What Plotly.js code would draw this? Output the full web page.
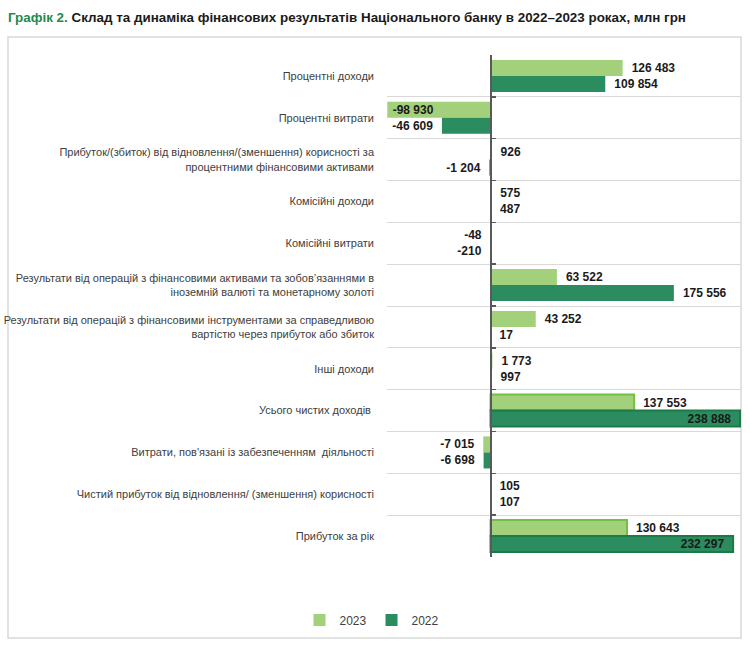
<!DOCTYPE html>
<html>
<head>
<meta charset="utf-8">
<script src="https://cdn.plot.ly/plotly-3.0.1.min.js"></script>
<style>
  html, body { margin: 0; padding: 0; background: #ffffff; }
  #chart { width: 750px; height: 645px; }
</style>
</head>
<body>
<div id="chart"></div>
<script>
// ---------- data ----------
const categories = [
  "Процентні доходи",
  "Процентні витрати",
  "Прибуток/(збиток) від відновлення/(зменшення) корисності за<br>процентними фінансовими активами",
  "Комісійні доходи",
  "Комісійні витрати",
  "Результати від операцій з фінансовими активами та зобов’язаннями в<br>іноземній валюті та монетарному золоті",
  "Результати від операцій з фінансовими інструментами за справедливою<br>вартістю через прибуток або збиток",
  "Інші доходи",
  "Усього чистих доходів ",
  "Витрати, пов'язані із забезпеченням  діяльності",
  "Чистий прибуток від відновлення/ (зменшення) корисності",
  "Прибуток за рік"
];
const values2023 = [126483, -98930, 926, 575, -48, 63522, 43252, 1773, 137553, -7015, 105, 130643];
const values2022 = [109854, -46609, -1204, 487, -210, 175556, 17, 997, 238888, -6698, 107, 232297];
const seriesNames = ["2023", "2022"];

// ---------- styling ----------
const colLight = "#a3d07b", colDark = "#2b8c60";
const borderLight = "#72bf44", borderDark = "#1d7a47";
const pos2023 = ["outside","inside","outside","outside","outside","outside","outside","outside","outside","outside","outside","outside"];
const pos2022 = ["outside","outside","outside","outside","outside","outside","outside","outside","inside","outside","outside","inside"];
const outlined = [false,false,false,false,false,false,false,false,true,false,false,true];

function fmt(v) {
  const s = String(Math.abs(v)).replace(/\B(?=(\d{3})+(?!\d))/g, " ");
  return (v < 0 ? "-" : "") + s;
}
function labelText(vals, pos) {
  return vals.map((v, i) => {
    const t = fmt(v);
    if (pos[i] === "inside") return v < 0 ? "\u2009" + t : t + "\u2002";
    return v < 0 ? t + "\u2002" : "\u2002" + t;
  });
}

const valueFont = { family: "Liberation Sans, Arial, sans-serif", size: 12, color: "#1a1a1a", weight: "bold" };

const traces = [
  {
    type: "bar", orientation: "h", name: seriesNames[0],
    y: categories, x: values2023,
    text: labelText(values2023, pos2023), textposition: pos2023,
    insidetextanchor: "end", constraintext: "none", cliponaxis: false,
    textfont: valueFont, insidetextfont: valueFont, outsidetextfont: valueFont,
    marker: { color: colLight, line: { color: borderLight, width: outlined.map(o => o ? 2 : 0) } },
    hoverinfo: "x+name"
  },
  {
    type: "bar", orientation: "h", name: seriesNames[1],
    y: categories, x: values2022,
    text: labelText(values2022, pos2022), textposition: pos2022,
    insidetextanchor: "end", constraintext: "none", cliponaxis: false,
    textfont: valueFont, insidetextfont: valueFont, outsidetextfont: valueFont,
    marker: { color: colDark, line: { color: borderDark, width: outlined.map(o => o ? 2 : 0) } },
    hoverinfo: "x+name"
  },
  // invisible helper so the zero-axis (yaxis2) with boundary ticks gets drawn
  {
    type: "scatter", mode: "none", y: categories, x: values2023, yaxis: "y2",
    showlegend: false, hoverinfo: "skip"
  }
];

const n = categories.length;
const xr = [-99200, 239850];
const zeroFrac = (0 - xr[0]) / (xr[1] - xr[0]);

const layout = {
  width: 750, height: 645,
  margin: { l: 387, r: 9, t: 55, b: 88, pad: 0 },
  paper_bgcolor: "#ffffff", plot_bgcolor: "#ffffff",
  font: { family: "Liberation Sans, Arial, sans-serif", color: "#404040" },
  title: {
    text: '<span style="color:#1e8a4c">Графік 2.</span> Склад та динаміка фінансових результатів Національного банку в 2022–2023 роках, млн грн',
    font: { family: "Liberation Sans, Arial, sans-serif", size: 13.4, color: "#1a1a1a", weight: "bold" },
    xref: "container", yref: "container", x: 8 / 750, xanchor: "left", y: 1 - 17 / 645, yanchor: "middle"
  },
  barmode: "group", bargap: 0.234, bargroupgap: 0,
  xaxis: {
    range: xr, showgrid: false, zeroline: false, showticklabels: false, ticks: "", showline: false, fixedrange: true
  },
  yaxis: {
    type: "category", categoryorder: "array", categoryarray: categories,
    range: [n - 0.5, -0.5],
    tickson: "boundaries", showgrid: true, gridcolor: "#d9d9d9", gridwidth: 1,
    ticks: "", ticklen: 0, showline: false, zeroline: false,
    ticklabelstandoff: 12,
    tickfont: { family: "Liberation Sans, Arial, sans-serif", size: 11, color: "#404040" },
    fixedrange: true
  },
  yaxis2: {
    type: "category", categoryorder: "array", categoryarray: categories,
    overlaying: "y", anchor: "free", position: zeroFrac, side: "left",
    range: [n - 0.5, -0.5], tickson: "boundaries",
    showticklabels: false, showgrid: false, zeroline: false,
    showline: true, linecolor: "#595959", linewidth: 2,
    ticks: "inside", ticklen: 4, tickwidth: 1.5, tickcolor: "#595959",
    fixedrange: true
  },
  showlegend: true,
  legend: {
    orientation: "h", x: (372 - 387) / 354, xanchor: "center", y: (557 - 620) / 502, yanchor: "middle",
    font: { family: "Liberation Sans, Arial, sans-serif", size: 12, color: "#404040" },
    itemwidth: 30, traceorder: "normal"
  },
  shapes: [
    { type: "rect", xref: "paper", yref: "paper",
      x0: (8 - 387) / 354, x1: 1.0, y0: (557 - 638) / 502, y1: (557 - 37) / 502,
      line: { color: "#d9d9d9", width: 1.5 }, fillcolor: "rgba(0,0,0,0)", layer: "below" }
  ]
};

Plotly.newPlot("chart", traces, layout, { displayModeBar: false, staticPlot: true });
</script>
</body>
</html>
